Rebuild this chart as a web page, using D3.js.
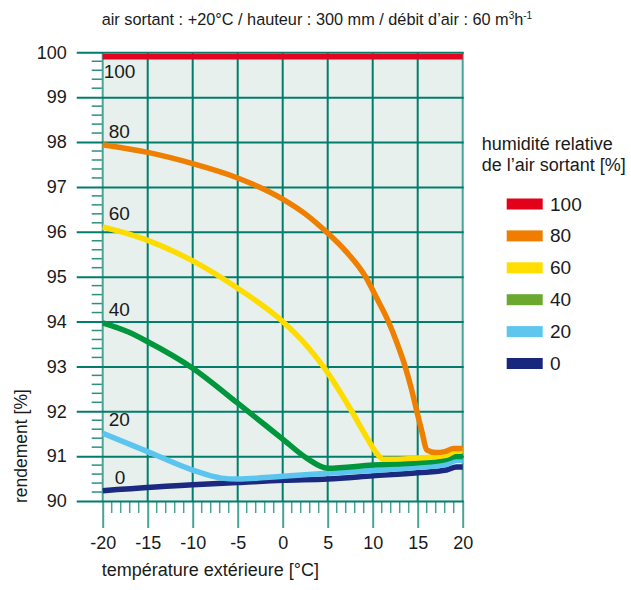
<!DOCTYPE html>
<html>
<head>
<meta charset="utf-8">
<script src="https://cdn.jsdelivr.net/npm/d3@7"></script>
<style>
  body { margin: 0; background: #fff; }
  text { font-family: "Liberation Sans", Arial, sans-serif; fill: #1a1a1a; }
</style>
</head>
<body>
<div id="chart"></div>
<script>
// humidity levels (legend + curve labels)
const levels = [100, 80, 60, 40, 20, 0];

// curves: temperature [°C] / efficiency [%]
const t100 = [-20, 20];
const v100 = [99.9, 99.9];
const t80 = [-20, -15, -10, -5, 0, 2.5, 5, 7, 9.2, 10.5, 11.74, 12.7, 13.6, 14.3, 14.9, 15.5, 16, 17, 18, 19, 20];
const v80 = [97.94, 97.77, 97.52, 97.2, 96.73, 96.4, 95.97, 95.57, 95.0, 94.5, 94.0, 93.52, 93.0, 92.5, 92.0, 91.52, 91.14, 91.08, 91.1, 91.17, 91.17];
const t60 = [-20, -15, -10, -5, 0, 2.5, 4.5, 7.67, 9.3, 10.5, 11.2, 14.5, 18.2, 19.3, 20];
const v60 = [96.11, 95.81, 95.35, 94.74, 94.0, 93.5, 93.0, 92.0, 91.43, 91.05, 90.93, 90.95, 91.02, 91.12, 91.12];
const t40 = [-20, -17.2, -15, -10, -5, 0, 2.7, 5, 10, 15, 18.2, 19.3, 20];
const v40 = [93.97, 93.77, 93.55, 92.96, 92.18, 91.38, 90.95, 90.73, 90.8, 90.85, 90.93, 90.99, 90.99];
const t20 = [-20, -15, -10, -6.8, -5, 0, 5, 10, 15, 18.2, 19.3, 20];
const v20 = [91.51, 91.1, 90.69, 90.51, 90.49, 90.55, 90.62, 90.68, 90.75, 90.82, 90.91, 90.91];
const t0 = [-20, -10, -5, 0, 5, 10, 15, 18.2, 19.3, 20];
const v0 = [90.23, 90.36, 90.41, 90.46, 90.49, 90.56, 90.63, 90.69, 90.76, 90.76];

// axis ticks
const xTicks = [-20, -15, -10, -5, 0, 5, 10, 15, 20];
const yTicks = [90, 91, 92, 93, 94, 95, 96, 97, 98, 99, 100];

const series = [
  { level: 0, t: t0, v: v0 },
  { level: 20, t: t20, v: v20 },
  { level: 40, t: t40, v: v40 },
  { level: 60, t: t60, v: v60 },
  { level: 80, t: t80, v: v80 },
  { level: 100, t: t100, v: v100 }
];

const lineColor = { 100: '#e3051f', 80: '#ef7f00', 60: '#ffdc00', 40: '#00963c', 20: '#5cc5ef', 0: '#1b2a80' };
const keyColor = { 100: '#e2001a', 80: '#ef7d00', 60: '#ffde00', 40: '#6aa82e', 20: '#5fc6ee', 0: '#17277e' };

const width = 631,
      height = 590;
const plotLeft = 102.7, plotRight = 462.7, plotTop = 52.3, plotBottom = 501;

const grid = '#007d6b',
      light = '#48a595';

var svg = d3.select('#chart')
            .append('svg')
            .attr('width', width)
            .attr('height', height);

var x = d3.scaleLinear().domain([-20, 20]).range([plotLeft, plotRight]);
var y = d3.scaleLinear().domain([90, 100]).range([plotBottom, plotTop]);

// plot background
svg.append('rect')
   .attr('x', plotLeft)
   .attr('y', plotTop)
   .attr('width', plotRight - plotLeft)
   .attr('height', plotBottom - plotTop)
   .attr('fill', '#e7f0ed');

// minor ticks
svg.append('g')
   .selectAll('line')
   .data(d3.range(-19, 20).filter(d => d % 5 !== 0))
   .enter()
   .append('line')
   .attr('x1', d => x(d)).attr('x2', d => x(d))
   .attr('y1', plotBottom).attr('y2', plotBottom + 12)
   .attr('stroke', light).attr('stroke-width', 1.5);

svg.append('g')
   .selectAll('line')
   .data(d3.range(90.2, 100, 0.2).filter(d => Math.abs(d - Math.round(d)) > 0.01))
   .enter()
   .append('line')
   .attr('x1', plotLeft - 11).attr('x2', plotLeft)
   .attr('y1', d => y(d)).attr('y2', d => y(d))
   .attr('stroke', '#2e8f80').attr('stroke-width', 1.5);

// x axis (major ticks + labels)
var xAxis = svg.append('g')
   .attr('transform', 'translate(0,' + plotBottom + ')')
   .call(d3.axisBottom(x)
     .tickValues(xTicks)
     .tickSize(27)
     .tickPadding(8)
     .tickFormat(d => String(d)));
xAxis.select('.domain').remove();
xAxis.selectAll('line').attr('stroke', light).attr('stroke-width', 2);
xAxis.selectAll('text').style('font-size', '18px').attr('fill', '#1a1a1a');

// vertical grid lines
svg.append('g')
   .selectAll('line')
   .data(xTicks)
   .enter()
   .append('line')
   .attr('x1', d => x(d)).attr('x2', d => x(d))
   .attr('y1', plotTop).attr('y2', plotBottom)
   .attr('stroke', d => (d === -20 || d === 20) ? light : grid)
   .attr('stroke-width', 2);

// y axis (grid lines run through the major ticks)
var yAxis = svg.append('g')
   .attr('transform', 'translate(' + plotLeft + ',0)')
   .call(d3.axisLeft(y)
     .tickValues(yTicks)
     .tickSize(26)
     .tickPadding(10)
     .tickFormat(d => String(d)));
yAxis.select('.domain').remove();
yAxis.selectAll('line').attr('x2', plotRight - plotLeft + 1).attr('x1', -26)
     .attr('stroke', grid).attr('stroke-width', 2);
yAxis.selectAll('text').style('font-size', '18px').attr('fill', '#1a1a1a');

// curves
var line = d3.line()
  .x(d => x(d[0]))
  .y(d => y(d[1]))
  .curve(d3.curveMonotoneX);

svg.append('g')
   .selectAll('path')
   .data(series)
   .enter()
   .append('path')
   .attr('d', d => line(d.t.map((t, i) => [t, d.v[i]])))
   .attr('fill', 'none')
   .attr('stroke', d => lineColor[d.level])
   .attr('stroke-width', 5.5)
   .attr('stroke-linejoin', 'round');

// curve labels
svg.append('g')
   .selectAll('text')
   .data(series)
   .enter()
   .append('text')
   .attr('x', d => d.level === 100 ? plotLeft + 1 : (d.level === 0 ? plotLeft + 12 : plotLeft + 6))
   .attr('y', d => d.level === 100 ? y(d.v[0]) + 21 : y(d.v[0]) - 7)
   .style('font-size', '19px')
   .text(d => d.level);

// titles
svg.append('text')
   .attr('x', 101.7)
   .attr('y', 25)
   .style('font-size', '16.3px')
   .html('air sortant : +20°C / hauteur : 300 mm / débit d’air : 60 m<tspan dy="-6" style="font-size:10px">3</tspan><tspan dy="6">h</tspan><tspan dy="-6" style="font-size:10px">-1</tspan>');

svg.append('text')
   .attr('transform', 'translate(27,503) rotate(-90)')
   .style('font-size', '17.5px')
   .style('text-anchor', 'start')
   .text('rendement [%]');

svg.append('text')
   .attr('x', 101.7)
   .attr('y', 576)
   .style('font-size', '18px')
   .text('température extérieure [°C]');

// legend
var key = svg.append('g').attr('class', 'key');
key.append('text').attr('x', 481.7).attr('y', 150).style('font-size', '18px').text('humidité relative');
key.append('text').attr('x', 481.7).attr('y', 171).style('font-size', '18px').text('de l’air sortant [%]');

var row = key.selectAll('.row')
   .data(levels)
   .enter()
   .append('g')
   .attr('transform', (d, i) => 'translate(0,' + (204 + i * 31.9) + ')');
row.append('rect')
   .attr('x', 506.7).attr('y', -5.5)
   .attr('width', 36).attr('height', 11)
   .attr('fill', d => keyColor[d]);
row.append('text')
   .attr('x', 550).attr('y', 6.5)
   .style('font-size', '19px')
   .text(d => d);
</script>
</body>
</html>
